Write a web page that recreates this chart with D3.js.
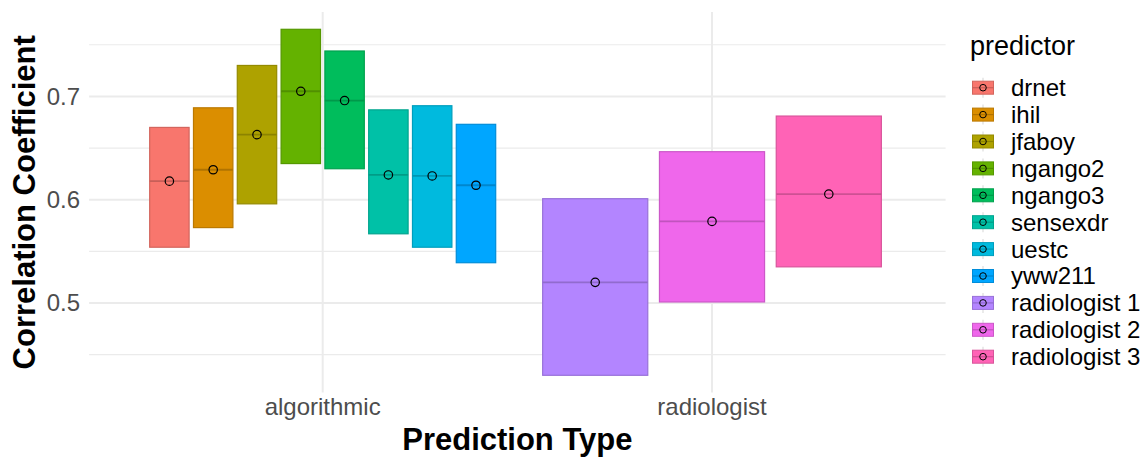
<!DOCTYPE html>
<html>
<head>
<meta charset="utf-8">
<script src="https://cdn.jsdelivr.net/npm/d3@7"></script>
<style>
  html, body { margin: 0; padding: 0; background: #ffffff; }
  svg { display: block; font-family: "Liberation Sans", Arial, Helvetica, sans-serif; }
</style>
</head>
<body>
<svg id="chart" width="1143" height="458"></svg>
<script>
// Correlation coefficient intervals per predictor, grouped by prediction type
const types = ["algorithmic", "radiologist"];
const predictors = ["drnet", "ihil", "jfaboy", "ngango2", "ngango3", "sensexdr", "uestc", "yww211",
                    "radiologist 1", "radiologist 2", "radiologist 3"];
const predictorType = ["algorithmic", "algorithmic", "algorithmic", "algorithmic", "algorithmic",
                       "algorithmic", "algorithmic", "algorithmic",
                       "radiologist", "radiologist", "radiologist"];
const lower  = [0.554, 0.573, 0.596, 0.635, 0.630, 0.567, 0.554, 0.539, 0.430, 0.501, 0.535];
const median = [0.618, 0.629, 0.663, 0.705, 0.696, 0.624, 0.623, 0.614, 0.520, 0.579, 0.6055];
const upper  = [0.670, 0.689, 0.730, 0.765, 0.744, 0.687, 0.691, 0.673, 0.601, 0.6465, 0.681];
const colors = ["#F8766D", "#DB8E00", "#AEA200", "#64B200", "#00BD5C", "#00C1A7",
                "#00BADE", "#00A6FF", "#B385FF", "#EF67EB", "#FF63B6"];
const yTicks = [0.5, 0.6, 0.7];
const yMinor = [0.45, 0.55, 0.65, 0.75];

const rows = predictors.map((p, i) => ({
  predictor: p, type: predictorType[i], lo: lower[i], mid: median[i], hi: upper[i], color: colors[i]
}));

const svg = d3.select("#chart");
const panel = { left: 89.1, right: 945.6, top: 12, bottom: 392.6 };

// y: data range padded by 5% on each side
const yLo = d3.min(lower), yHi = d3.max(upper), yPad = (yHi - yLo) * 0.05;
const y = d3.scaleLinear().domain([yLo - yPad, yHi + yPad]).range([panel.bottom, panel.top]);

// x: one band per prediction type, dodged bands for each predictor inside it
const x = d3.scaleBand().domain(types).range([panel.left, panel.right])
  .paddingInner(0.1).paddingOuter(0.15);
const inner = {};
types.forEach(t => {
  const members = rows.filter(r => r.type === t).map(r => r.predictor);
  inner[t] = d3.scaleBand().domain(members).range([0, x.bandwidth()])
    .paddingInner(0.1).paddingOuter(0.05);
});
const cx = t => x(t) + x.bandwidth() / 2;

const grid = svg.append("g");
grid.selectAll("line.minor").data(yMinor).join("line")
  .attr("x1", panel.left).attr("x2", panel.right)
  .attr("y1", d => y(d)).attr("y2", d => y(d))
  .attr("stroke", "#ebebeb").attr("stroke-width", 1.1);
grid.selectAll("line.major").data(yTicks).join("line")
  .attr("x1", panel.left).attr("x2", panel.right)
  .attr("y1", d => y(d)).attr("y2", d => y(d))
  .attr("stroke", "#ebebeb").attr("stroke-width", 2);
grid.selectAll("line.vmajor").data(types).join("line")
  .attr("x1", d => cx(d)).attr("x2", d => cx(d))
  .attr("y1", panel.top).attr("y2", panel.bottom)
  .attr("stroke", "#ebebeb").attr("stroke-width", 2);

// crossbars
const bars = svg.append("g").selectAll("g").data(rows).join("g");
bars.append("rect")
  .attr("x", d => x(d.type) + inner[d.type](d.predictor))
  .attr("width", d => inner[d.type].bandwidth())
  .attr("y", d => y(d.hi))
  .attr("height", d => y(d.lo) - y(d.hi))
  .attr("fill", d => d.color)
  .attr("stroke", d => d3.color(d.color).darker(0.45))
  .attr("stroke-width", 1.2);
bars.append("line")
  .attr("x1", d => x(d.type) + inner[d.type](d.predictor))
  .attr("x2", d => x(d.type) + inner[d.type](d.predictor) + inner[d.type].bandwidth())
  .attr("y1", d => y(d.mid)).attr("y2", d => y(d.mid))
  .attr("stroke", d => d3.color(d.color).darker(0.6))
  .attr("stroke-width", 1.8);
bars.append("circle")
  .attr("cx", d => x(d.type) + inner[d.type](d.predictor) + inner[d.type].bandwidth() / 2)
  .attr("cy", d => y(d.mid))
  .attr("r", 4.2)
  .attr("fill", "none")
  .attr("stroke", "#000")
  .attr("stroke-width", 1.2);

// y axis labels
svg.append("g").selectAll("text").data(yTicks).join("text")
  .attr("x", 80).attr("y", d => y(d)).attr("dy", "0.35em")
  .attr("text-anchor", "end")
  .attr("font-size", 24).attr("fill", "#4d4d4d")
  .text(d => d3.format(".1f")(d));

// x axis labels
svg.append("g").selectAll("text").data(types).join("text")
  .attr("x", d => cx(d)).attr("y", 415)
  .attr("text-anchor", "middle")
  .attr("font-size", 24).attr("fill", "#4d4d4d")
  .text(d => d);

// axis titles
svg.append("text")
  .attr("x", (panel.left + panel.right) / 2).attr("y", 450)
  .attr("text-anchor", "middle")
  .attr("font-size", 31).attr("font-weight", "bold").attr("fill", "#000")
  .text("Prediction Type");
svg.append("text")
  .attr("transform", `translate(35,${(panel.top + panel.bottom) / 2}) rotate(-90)`)
  .attr("text-anchor", "middle")
  .attr("font-size", 31).attr("font-weight", "bold").attr("fill", "#000")
  .text("Correlation Coefficient");

// legend
const legend = svg.append("g");
legend.append("text")
  .attr("x", 970).attr("y", 55)
  .attr("font-size", 27).attr("fill", "#000")
  .text("predictor");
const rowY = d3.scalePoint().domain(predictors).range([87.7, 356.7]);
const items = legend.selectAll("g.item").data(rows).join("g")
  .attr("transform", d => `translate(983,${rowY(d.predictor)})`);
items.append("line")
  .attr("x1", 0).attr("x2", 0).attr("y1", -10).attr("y2", 10)
  .attr("stroke", "#dcdcdc").attr("stroke-width", 1.2);
items.append("rect")
  .attr("x", -10.5).attr("y", -6.5).attr("width", 21).attr("height", 13)
  .attr("fill", d => d.color)
  .attr("stroke", d => d3.color(d.color).darker(0.45))
  .attr("stroke-width", 1);
items.append("line")
  .attr("x1", -10.5).attr("x2", 10.5).attr("y1", 0).attr("y2", 0)
  .attr("stroke", d => d3.color(d.color).darker(0.6))
  .attr("stroke-width", 1.2);
items.append("circle")
  .attr("r", 3.3).attr("fill", "none").attr("stroke", "#000").attr("stroke-width", 1);
items.append("text")
  .attr("x", 28).attr("y", 0).attr("dy", "0.35em")
  .attr("font-size", 24).attr("fill", "#000")
  .text(d => d.predictor);
</script>
</body>
</html>
